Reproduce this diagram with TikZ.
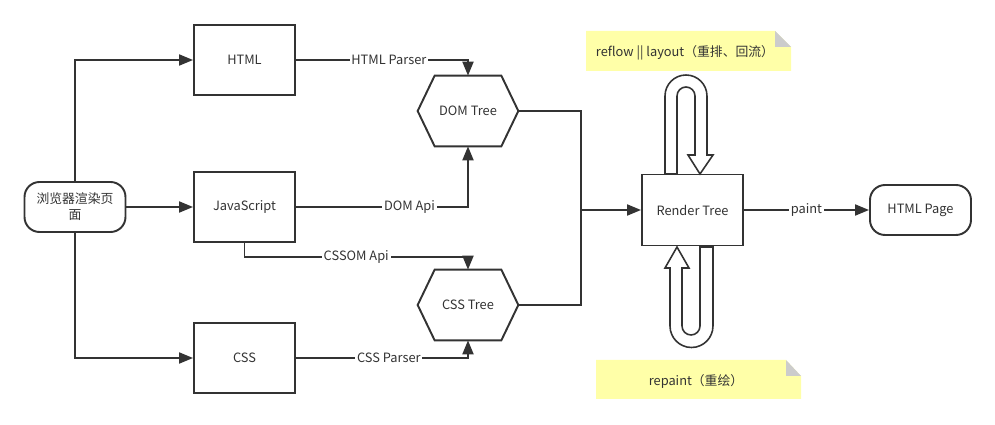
\documentclass[tikz,border=0pt]{standalone}
\usepackage{fontspec}
\setmainfont{Noto Sans CJK SC}
\usetikzlibrary{arrows.meta}

\definecolor{trait}{HTML}{333333}
\definecolor{notejaune}{HTML}{FFFFA8}
\definecolor{pli}{HTML}{CCCCCC}

\tikzset{
  boite/.style={draw=trait, line width=1.1pt, minimum width=2.02cm, minimum height=1.4cm, inner sep=0pt},
  arrondi/.style={boite, rounded corners=0.3cm, minimum height=1cm, align=center},
  hexa/.style={minimum width=2cm, minimum height=1.4cm, inner sep=0pt},
  lien/.style={draw=trait, line width=1.1pt},
  fleche/.style={lien, -{Triangle[length=0.28cm,width=0.22cm]}},
  etiq/.style={fill=white, inner sep=1pt},
}

\begin{document}
\begin{tikzpicture}[x=0.02cm, y=-0.02cm, font=\fontsize{7.3pt}{9pt}\selectfont, text=trait]
    \useasboundingbox (0,0) rectangle (995,425);

    \node[arrondi] (start) at (75,207) {浏览器渲染页\\面};
    \node[boite] (html) at (244.5,60) {HTML};
    \node[boite] (js) at (244.5,207) {JavaScript};
    \node[boite] (css) at (244.5,358) {CSS};

    %arbres
    \node[hexa] (dom) at (468,111) {DOM Tree};
    \node[hexa] (csst) at (468,305) {CSS Tree};
    \foreach \h in {dom,csst}{
      \draw[lien] (\h.west) -- ([xshift=0.34cm]\h.north west) -- ([xshift=-0.34cm]\h.north east)
        -- (\h.east) -- ([xshift=-0.34cm]\h.south east) -- ([xshift=0.34cm]\h.south west) -- cycle;
    }

    \node[boite, minimum height=1.42cm] (render) at (692.5,210) {Render Tree};
    \node[arrondi] (page) at (920.5,210) {HTML Page};

    \draw[fleche] (start.north) |- (html.west);
    \draw[fleche] (start.east) -- (js.west);
    \draw[fleche] (start.south) |- (css.west);

    \draw[fleche] (html.east) -| (dom.north) node[pos=0.27, etiq] {HTML Parser};
    \draw[fleche] (js.east) -| (dom.south) node[pos=0.33, etiq] {DOM Api};
    \draw[fleche] (js.south) -- ++(0,14) -| (csst.north) node[pos=0.25, etiq] {CSSOM Api};
    \draw[fleche] (css.east) -| (csst.south) node[pos=0.27, etiq] {CSS Parser};

    \coordinate (fusion) at (581,210);
    \draw[lien] (dom.east) -| (fusion);
    \draw[fleche] (csst.east) -| (fusion) -- (render.west);

    \draw[fleche] (render.east) -- (page.west) node[midway, etiq] {paint};

    %boucle reflow
    \draw[lien, line width=0.9pt, fill=white] (665,174) -- (665,96) arc[start angle=180, end angle=0, radius=0.42cm]
      -- (707,155) -- (713,155) -- (700,174) -- (688,155) -- (695,155) -- (695,96)
      arc[start angle=0, end angle=180, radius=0.18cm] -- (677,174) -- cycle;

    %boucle repaint
    \draw[lien, line width=0.9pt, fill=white] (700,247) -- (700,326) arc[start angle=0, end angle=-180, radius=0.18cm]
      -- (682,268) -- (689,268) -- (677,247) -- (665,268) -- (670,268) -- (670,326)
      arc[start angle=180, end angle=360, radius=0.43cm] -- (713,247) -- cycle;

    %notes
    \fill[notejaune] (586,31) -- (775,31) -- (791,47) -- (791,71) -- (586,71) -- cycle;
    \fill[pli] (775,31) -- (791,47) -- (775,47) -- cycle;
    \node (reflow) at (685,53) {reflow || layout（重排、回流）};

    \fill[notejaune] (596,360) -- (786,360) -- (801,376) -- (801,399) -- (596,399) -- cycle;
    \fill[pli] (786,360) -- (801,376) -- (786,376) -- cycle;
    \node (repaint) at (696,381) {repaint（重绘）};
\end{tikzpicture}
\end{document}
